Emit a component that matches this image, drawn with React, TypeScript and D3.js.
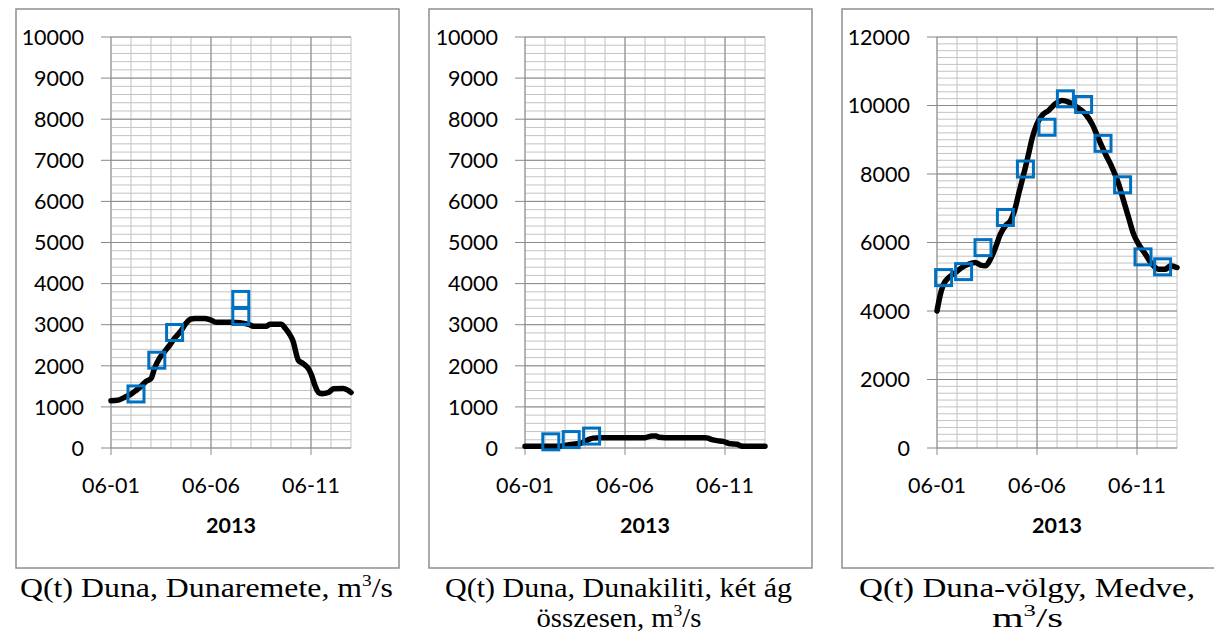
import React from 'react';
import * as d3 from 'd3';

// ---------- data ----------
const xTickLabels = ['06-01', '06-06', '06-11'];
const yTicksRemete = [0, 1000, 2000, 3000, 4000, 5000, 6000, 7000, 8000, 9000, 10000];
const yTicksKiliti = [0, 1000, 2000, 3000, 4000, 5000, 6000, 7000, 8000, 9000, 10000];
const yTicksMedve = [0, 2000, 4000, 6000, 8000, 10000, 12000];
const xAxisTitle = '2013';

// time in days after 2013-06-01 00:00, discharge in m3/s
const remeteT = [0, 0.33, 0.67, 1.0, 1.25, 1.5, 1.75, 2.0, 2.17, 2.42, 2.67, 2.93, 3.18, 3.5, 3.76, 4.0, 4.18, 4.68, 5.0, 5.27, 6.0, 6.44, 6.94, 7.11, 7.78, 7.94, 8.53, 8.7, 8.95, 9.11, 9.28, 9.36, 9.62, 9.87, 10.03, 10.2, 10.37, 10.54, 10.87, 11.12, 11.62, 11.87, 12.0];
const remeteQ = [1150, 1160, 1230, 1310, 1400, 1500, 1620, 1690, 1930, 2180, 2340, 2500, 2670, 2850, 3040, 3140, 3150, 3150, 3110, 3060, 3060, 3050, 3000, 2960, 2960, 3010, 3010, 2920, 2750, 2590, 2260, 2140, 2050, 1930, 1770, 1520, 1355, 1320, 1350, 1440, 1450, 1400, 1350];
const remeteMarkT = [1.25, 2.29, 3.18, 6.49, 6.49];
const remeteMarkQ = [1315, 2136, 2810, 3615, 3200];

const kilitiT = [0, 0.5, 1.0, 1.5, 1.9, 2.2, 2.5, 2.8, 3.0, 3.2, 3.4, 3.8, 4.5, 5.0, 5.5, 6.0, 6.15, 6.35, 6.55, 6.7, 7.0, 8.0, 8.5, 9.0, 9.15, 9.3, 9.6, 9.9, 10.2, 10.4, 10.6, 10.8, 11.0, 11.5, 12.0];
const kilitiQ = [40, 40, 40, 40, 50, 80, 100, 120, 160, 210, 240, 250, 250, 250, 250, 250, 270, 290, 290, 260, 250, 250, 250, 250, 240, 210, 180, 160, 110, 100, 90, 50, 40, 40, 40];
const kilitiMarkT = [1.29, 2.31, 3.33];
const kilitiMarkQ = [150, 205, 290];

const medveT = [0, 0.17, 0.33, 0.58, 0.92, 1.25, 1.58, 1.92, 2.17, 2.42, 2.67, 2.92, 3.17, 3.42, 3.67, 3.92, 4.08, 4.25, 4.42, 4.58, 4.75, 5.0, 5.25, 5.58, 5.92, 6.25, 6.58, 7.0, 7.42, 7.75, 8.08, 8.42, 8.75, 9.08, 9.33, 9.58, 9.83, 10.08, 10.42, 10.75, 11.08, 11.42, 11.67, 12.0];
const medveQ = [4000, 4490, 4780, 4975, 5120, 5270, 5365, 5415, 5340, 5320, 5510, 5850, 6245, 6490, 6630, 7020, 7415, 7800, 8195, 8585, 9025, 9465, 9710, 9855, 10050, 10145, 10100, 9950, 9755, 9465, 9025, 8585, 8195, 7710, 7220, 6730, 6245, 5950, 5660, 5365, 5220, 5220, 5320, 5270];
const medveMarkT = [0.33, 1.33, 2.3, 3.42, 4.42, 5.5, 6.42, 7.33, 8.3, 9.28, 10.3, 11.28];
const medveMarkQ = [4975, 5150, 5850, 6730, 8145, 9365, 10195, 10030, 8895, 7685, 5580, 5290];

const captionRemete = ['Q(t) Duna, Dunaremete, m', '3', '/s'];
const captionKiliti1 = 'Q(t) Duna, Dunakiliti, két ág';
const captionKiliti2 = ['összesen, m', '3', '/s'];
const captionMedve1 = 'Q(t) Duna-völgy, Medve,';
const captionMedve2 = ['m', '3', '/s'];

// ---------- layout ----------
const W = 1214;
const H = 639;
const PLOT_W = 240;
const PLOT_TOP = 37;
const PLOT_BOTTOM = 448;
const FRAME_TOP = 9;
const FRAME_H = 559;
const FRAME_W = 383;
const START = Date.UTC(2013, 5, 1);
const END = Date.UTC(2013, 5, 13);
const DAY = 864e5;

const MAJOR = '#898989';
const MINOR = '#c3c3c3';
const FRAME = '#8f8f8f';
const BLUE = '#0070C0';
const LABEL_FONT = 'Lato, "Open Sans", sans-serif';
const SERIF = '"Liberation Serif", "Times New Roman", serif';

type PanelProps = {
  frameLeft: number;
  plotLeft: number;
  yTicks: number[];
  minorStep: number;
  lineT: number[];
  lineQ: number[];
  markT: number[];
  markQ: number[];
};

function Panel(p: PanelProps) {
  const yMax = p.yTicks[p.yTicks.length - 1];
  const x = d3.scaleUtc().domain([new Date(START), new Date(END)]).range([p.plotLeft, p.plotLeft + PLOT_W]);
  const y = d3.scaleLinear().domain([0, yMax]).range([PLOT_BOTTOM, PLOT_TOP]);
  const toDate = (t: number) => new Date(START + t * DAY);

  const minorDays = d3.utcDay.range(new Date(START), new Date(END + 1));
  const majorDays = xTickLabels.map((s) => {
    const [m, d] = s.split('-').map(Number);
    return new Date(Date.UTC(2013, m - 1, d));
  });
  const minorY = d3.range(0, yMax + 1, p.minorStep);

  const pts = p.lineT.map((t, i) => [toDate(t), p.lineQ[i]] as [Date, number]);
  const line = d3
    .line<[Date, number]>()
    .x((d) => x(d[0]))
    .y((d) => y(d[1]))
    .curve(d3.curveMonotoneX);

  const ms = 16;
  return (
    <g>
      <rect x={p.frameLeft} y={FRAME_TOP} width={FRAME_W} height={FRAME_H} fill="#fff" stroke={FRAME} strokeWidth={1.5} />
      {minorY.map((v) => (
        <line key={'hy' + v} x1={p.plotLeft} x2={p.plotLeft + PLOT_W} y1={y(v)} y2={y(v)} stroke={MINOR} strokeWidth={1} />
      ))}
      {minorDays.map((d) => (
        <line key={'vx' + +d} x1={x(d)} x2={x(d)} y1={PLOT_TOP} y2={PLOT_BOTTOM} stroke={MINOR} strokeWidth={1} />
      ))}
      {p.yTicks.map((v) => (
        <line key={'my' + v} x1={p.plotLeft - 10} x2={p.plotLeft + PLOT_W} y1={y(v)} y2={y(v)} stroke={MAJOR} strokeWidth={1} />
      ))}
      {majorDays.map((d) => (
        <line key={'mx' + +d} x1={x(d)} x2={x(d)} y1={PLOT_TOP} y2={PLOT_BOTTOM + 7} stroke={MAJOR} strokeWidth={1} />
      ))}
      <path d={line(pts) || ''} fill="none" stroke="#000" strokeWidth={5.5} strokeLinejoin="round" strokeLinecap="round" />
      {p.markT.map((t, i) => (
        <rect
          key={'m' + i}
          x={x(toDate(t)) - ms / 2}
          y={y(p.markQ[i]) - ms / 2}
          width={ms}
          height={ms}
          fill="none"
          stroke={BLUE}
          strokeWidth={3}
        />
      ))}
      {p.yTicks.map((v) => (
        <text key={'ty' + v} x={p.plotLeft - 27} y={y(v)} dy="0.36em" textAnchor="end" fontFamily={LABEL_FONT} fontSize={21.5} fill="#000">
          {v}
        </text>
      ))}
      {majorDays.map((d, i) => (
        <text key={'tx' + i} x={x(d)} y={493} textAnchor="middle" fontFamily={LABEL_FONT} fontSize={21.5} fill="#000">
          {xTickLabels[i]}
        </text>
      ))}
      <text x={p.plotLeft + PLOT_W / 2} y={533} textAnchor="middle" fontFamily={LABEL_FONT} fontWeight="bold" fontSize={21.5} fill="#000">
        {xAxisTitle}
      </text>
    </g>
  );
}

function Caption({ cx, y, width, parts }: { cx: number; y: number; width: number; parts: string[] | string }) {
  const common = {
    x: cx,
    y,
    textAnchor: 'middle' as const,
    fontFamily: SERIF,
    fontSize: 28,
    fill: '#000',
    textLength: width,
    lengthAdjust: 'spacingAndGlyphs' as const,
  };
  if (typeof parts === 'string') return <text {...common}>{parts}</text>;
  return (
    <text {...common}>
      {parts[0]}
      <tspan fontSize={17} dy={-11}>
        {parts[1]}
      </tspan>
      <tspan dy={11}>{parts[2]}</tspan>
    </text>
  );
}

export default function App() {
  return (
    <svg width={W} height={H} style={{ position: 'absolute', left: 0, top: 0, background: '#fff' }}>
      <rect x={0} y={0} width={W} height={H} fill="#fff" />
      <Panel frameLeft={16} plotLeft={111} yTicks={yTicksRemete} minorStep={200} lineT={remeteT} lineQ={remeteQ} markT={remeteMarkT} markQ={remeteMarkQ} />
      <Panel frameLeft={429} plotLeft={525} yTicks={yTicksKiliti} minorStep={200} lineT={kilitiT} lineQ={kilitiQ} markT={kilitiMarkT} markQ={kilitiMarkQ} />
      <Panel frameLeft={842} plotLeft={937} yTicks={yTicksMedve} minorStep={200} lineT={medveT} lineQ={medveQ} markT={medveMarkT} markQ={medveMarkQ} />
      <Caption cx={206.5} y={597} width={373} parts={captionRemete} />
      <Caption cx={618.5} y={597} width={347} parts={captionKiliti1} />
      <Caption cx={619} y={627} width={165} parts={captionKiliti2} />
      <Caption cx={1027} y={597} width={336} parts={captionMedve1} />
      <Caption cx={1027.5} y={627} width={71} parts={captionMedve2} />
    </svg>
  );
}
